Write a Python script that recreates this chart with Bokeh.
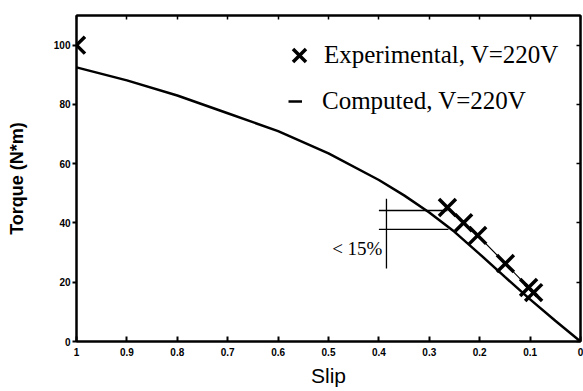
from bokeh.plotting import figure
from bokeh.models import (Range1d, FixedTicker, LinearAxis, ColumnDataSource,
                          Legend, LegendItem, Label)
from bokeh.embed import file_html
from bokeh.resources import INLINE

# ---- data ----
computed_slip = [1.0, 0.9, 0.8, 0.7, 0.6, 0.5, 0.4, 0.35, 0.3, 0.25, 0.2, 0.15, 0.1, 0.05, 0.0]
computed_torque = [92.5, 88.1, 83.0, 77.0, 71.0, 63.5, 54.5, 49.3, 43.5, 37.0, 29.5, 21.8, 14.2, 7.0, 0.0]

exp_slip = [1.0, 0.264, 0.232, 0.204, 0.149, 0.103, 0.093]
exp_torque = [100.0, 45.2, 40.1, 35.8, 26.3, 18.2, 16.5]

# annotation bracket ("< 15%")
bracket_levels = [44.2, 37.8]          # torque levels of the two horizontal marks
bracket_from = [0.40, 0.40]            # slip where horizontal marks start
bracket_to = [0.264, 0.262]            # slip where horizontal marks end
bracket_vslip = 0.385                  # slip of the vertical bar
bracket_vrange = [24.6, 48.2]          # torque extent of the vertical bar
bracket_text = "< 15%"
bracket_text_pos = (0.393, 31.4)

x_ticks = [1.0, 0.9, 0.8, 0.7, 0.6, 0.5, 0.4, 0.3, 0.2, 0.1, 0.0]
y_ticks = [0, 20, 40, 60, 80, 100]

p = figure(width=583, height=391, output_backend="svg", toolbar_location=None,
           x_range=Range1d(1.0, 0.0), y_range=Range1d(0, 110),
           min_border_left=76, min_border_right=3, min_border_top=15, min_border_bottom=50)
p.grid.visible = False
p.outline_line_color = "black"
p.outline_line_width = 2
p.background_fill_color = "white"
p.border_fill_color = "white"

tick_font = "Liberation Sans"

xa = p.xaxis[0]
xa.ticker = FixedTicker(ticks=x_ticks)
xa.axis_label = "Slip"
xa.axis_label_text_font = "Liberation Sans"
xa.axis_label_text_font_style = "normal"
xa.axis_label_text_font_size = "21px"
xa.axis_label_text_color = "black"
xa.axis_label_standoff = 5
xa.major_label_text_font = tick_font
xa.major_label_text_font_style = "bold"
xa.major_label_text_font_size = "10px"
xa.major_label_text_color = "black"
xa.major_label_standoff = 6
xa.major_tick_in = 5
xa.major_tick_out = 0
xa.minor_tick_line_color = None
xa.axis_line_width = 2
xa.major_tick_line_width = 2

ya = p.yaxis[0]
ya.ticker = FixedTicker(ticks=y_ticks)
ya.axis_label = "Torque (N*m)"
ya.axis_label_text_font = "Liberation Sans"
ya.axis_label_text_font_style = "bold"
ya.axis_label_text_font_size = "18px"
ya.axis_label_text_color = "black"
ya.axis_label_standoff = 24
ya.major_label_text_font = tick_font
ya.major_label_text_font_style = "bold"
ya.major_label_text_font_size = "10px"
ya.major_label_text_color = "black"
ya.major_label_standoff = 2
ya.major_tick_in = 0
ya.major_tick_out = 4
ya.minor_tick_line_color = None
ya.axis_line_width = 2
ya.major_tick_line_width = 2

top = LinearAxis(ticker=FixedTicker(ticks=x_ticks), major_label_text_color=None,
                 major_tick_in=4, major_tick_out=0, minor_tick_line_color=None,
                 axis_line_width=2, major_tick_line_width=1.5)
right = LinearAxis(ticker=FixedTicker(ticks=y_ticks), major_label_text_color=None,
                   major_tick_in=4, major_tick_out=0, minor_tick_line_color=None,
                   axis_line_width=2, major_tick_line_width=1.5)
p.add_layout(top, "above")
p.add_layout(right, "right")

# computed curve
comp = p.line(computed_slip, computed_torque, line_color="black", line_width=2.5)

# thin line joining experimental points (excluding slip = 1)
p.line(exp_slip[1:], exp_torque[1:], line_color="black", line_width=1.2)

# experimental crosses
exp = p.scatter(exp_slip, exp_torque, marker="x", size=24, line_color="black", line_width=3.5)

# bracket annotation
seg_src = ColumnDataSource(dict(x0=bracket_from, x1=bracket_to, y0=bracket_levels, y1=bracket_levels))
p.segment(x0="x0", y0="y0", x1="x1", y1="y1", source=seg_src, line_color="black", line_width=1.3)
p.segment(x0=[bracket_vslip], y0=[bracket_vrange[0]], x1=[bracket_vslip], y1=[bracket_vrange[1]],
          line_color="black", line_width=1.3)
p.add_layout(Label(x=bracket_text_pos[0], y=bracket_text_pos[1], text=bracket_text,
                   text_font="Liberation Serif", text_font_size="19px", text_color="black",
                   text_align="right", text_baseline="middle"))

# legends
leg1 = Legend(items=[LegendItem(label="Experimental, V=220V", renderers=[exp])],
              location=(200, 263), glyph_width=46, glyph_height=46, label_standoff=2,
              padding=0, margin=0, border_line_color=None, background_fill_alpha=0,
              label_text_font="Liberation Serif", label_text_font_size="25px",
              label_text_color="black")
leg2 = Legend(items=[LegendItem(label="Computed, V=220V", renderers=[comp])],
              location=(212, 226), glyph_width=14, glyph_height=20, label_standoff=20,
              padding=0, margin=0, border_line_color=None, background_fill_alpha=0,
              label_text_font="Liberation Serif", label_text_font_size="25px",
              label_text_color="black")
p.add_layout(leg1)
p.add_layout(leg2)

open("out.html", "w").write(file_html(p, INLINE))
